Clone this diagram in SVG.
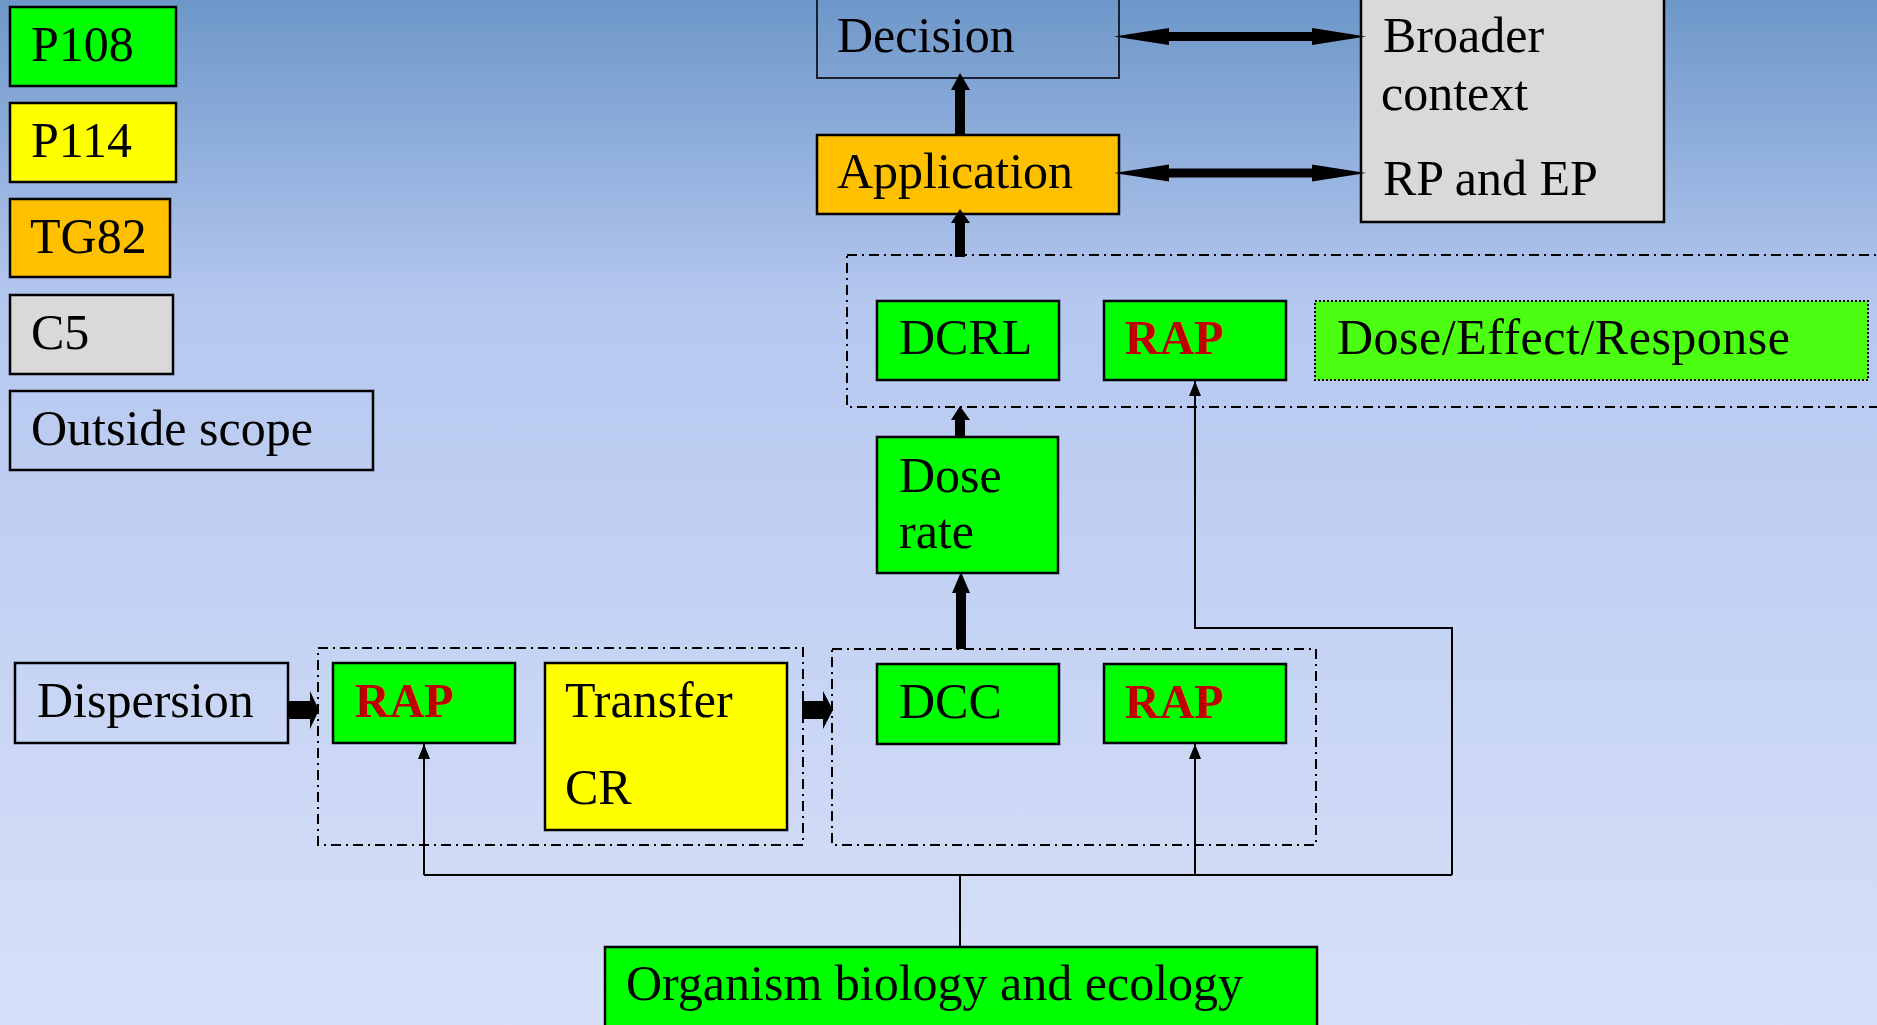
<svg xmlns="http://www.w3.org/2000/svg" width="1877" height="1025" viewBox="0 0 1877 1025">
<defs>
<linearGradient id="bg" x1="0" y1="0" x2="0" y2="1">
<stop offset="0" stop-color="#6D97C9"/>
<stop offset="0.3" stop-color="#B6C8F0"/>
<stop offset="1" stop-color="#D7E0F8"/>
</linearGradient>
<marker id="ah" markerWidth="15" markerHeight="12" refX="15" refY="6" orient="auto" markerUnits="userSpaceOnUse">
<path d="M0,0 L15,6 L0,12 Z" fill="#000"/>
</marker>
<style>
.box{stroke:#000;stroke-width:2.5}
.grp{fill:none;stroke:#000;stroke-width:2;stroke-dasharray:10 5 2 5}
.t{font-family:"Liberation Serif","Times New Roman",serif;font-size:50px;fill:#000}
.r{font-family:"Liberation Serif","Times New Roman",serif;font-size:48px;font-weight:bold;fill:#C00000}
.thin{fill:none;stroke:#000;stroke-width:2}
.thick{fill:#000}
</style>
</defs>
<rect x="0" y="0" width="1877" height="1025" fill="url(#bg)"/>

<g id="legend-p108"><rect class="box" x="10" y="7" width="166" height="79" fill="#00FF00"/><text class="t" x="31" y="61">P108</text></g>
<g id="legend-p114"><rect class="box" x="10" y="103" width="166" height="79" fill="#FFFF00"/><text class="t" x="31" y="157">P114</text></g>
<g id="legend-tg82"><rect class="box" x="10" y="199" width="160" height="78" fill="#FFC000"/><text class="t" x="30" y="253">TG82</text></g>
<g id="legend-c5"><rect class="box" x="10" y="295" width="163" height="79" fill="#D9D9D9"/><text class="t" x="31" y="349">C5</text></g>
<g id="legend-outside"><rect class="box" x="10" y="391" width="363" height="79" fill="none"/><text class="t" x="31" y="445">Outside scope</text></g>

<g id="decision"><rect x="817" y="-5" width="302" height="83" fill="none" stroke="#1a2030" stroke-width="2"/><text class="t" x="837" y="52">Decision</text></g>
<g id="broader"><rect class="box" x="1361" y="-5" width="303" height="227" fill="#D9D9D9"/><text class="t" x="1383" y="52">Broader</text><text class="t" x="1381" y="110">context</text><text class="t" x="1383" y="195">RP and EP</text></g>
<g id="application"><rect class="box" x="817" y="135" width="302" height="79" fill="#FFC000"/><text class="t" x="837" y="188">Application</text></g>

<g id="group-top"><rect class="grp" x="847" y="255" width="1100" height="152"/></g>
<g id="dcrl"><rect class="box" x="877" y="301" width="182" height="79" fill="#00FF00"/><text class="t" x="899" y="354">DCRL</text></g>
<g id="rap-top"><rect class="box" x="1104" y="301" width="182" height="79" fill="#00FF00"/><text class="r" x="1125" y="354">RAP</text></g>
<g id="der"><rect x="1315" y="301" width="553" height="79" fill="#4CFF12" stroke="#000" stroke-width="2" stroke-dasharray="2 2"/><text class="t" x="1337" y="354" textLength="453">Dose/Effect/Response</text></g>

<g id="dose-rate"><rect class="box" x="877" y="437" width="181" height="136" fill="#00FF00"/><text class="t" x="899" y="492">Dose</text><text class="t" x="899" y="548">rate</text></g>

<g id="group-1"><rect class="grp" x="318" y="648" width="485" height="197"/></g>
<g id="group-2"><rect class="grp" x="832" y="649" width="484" height="196"/></g>
<g id="dispersion"><rect class="box" x="15" y="663" width="273" height="80" fill="none"/><text class="t" x="37" y="717">Dispersion</text></g>
<g id="rap-1"><rect class="box" x="333" y="663" width="182" height="80" fill="#00FF00"/><text class="r" x="355" y="717">RAP</text></g>
<g id="transfer"><rect class="box" x="545" y="663" width="242" height="167" fill="#FFFF00"/><text class="t" x="565" y="717">Transfer</text><text class="t" x="565" y="804">CR</text></g>
<g id="dcc"><rect class="box" x="877" y="664" width="182" height="80" fill="#00FF00"/><text class="t" x="899" y="718">DCC</text></g>
<g id="rap-2"><rect class="box" x="1104" y="664" width="182" height="79" fill="#00FF00"/><text class="r" x="1125" y="718">RAP</text></g>

<g id="organism"><rect class="box" x="605" y="947" width="712" height="100" fill="#00FF00"/><text class="t" x="626" y="1000">Organism biology and ecology</text></g>

<g id="connectors">
<polygon class="thick" points="1114,36.5 1169,28 1169,32 1312,32 1312,28 1366,36.5 1312,45 1312,41 1169,41 1169,45"/>
<polygon class="thick" points="1114,173 1169,164.5 1169,168.5 1312,168.5 1312,164.5 1366,173 1312,181.5 1312,177.5 1169,177.5 1169,181.5"/>
<polygon class="thick" points="955,135 955,90 951,90 960,73 970,90 965,90 965,135"/>
<polygon class="thick" points="955,257 955,223 951,223 960,209 970,223 965,223 965,257"/>
<polygon class="thick" points="955,437 955,420 951,420 960,406 970,420 965,420 965,437"/>
<polygon class="thick" points="956,649 956,593 952,593 961,572 970,593 966,593 966,649"/>
<polygon class="thick" points="288,701 310,701 310,691 319,710 310,729 310,719 288,719"/>
<polygon class="thick" points="802,701 823,701 823,691 833,710 823,729 823,719 802,719"/>
<path class="thin" d="M424,875 L1452,875"/>
<path class="thin" d="M424,875 L424,744" marker-end="url(#ah)"/>
<path class="thin" d="M1195,875 L1195,744" marker-end="url(#ah)"/>
<path class="thin" d="M1452,875 L1452,628 L1195,628 L1195,381" marker-end="url(#ah)"/>
<path class="thin" d="M960,875 L960,947"/>
</g>
</svg>
